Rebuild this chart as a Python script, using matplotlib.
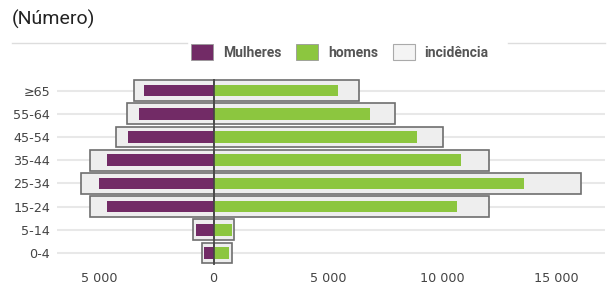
import matplotlib
matplotlib.use("Agg")
import matplotlib.pyplot as plt
from matplotlib.patches import Patch
from matplotlib.lines import Line2D
from matplotlib.ticker import FuncFormatter

categories = ["0-4", "5-14", "15-24", "25-34", "35-44", "45-54", "55-64", "≥65"]
mulheres = [430, 780, 4660, 5010, 4660, 3740, 3260, 3060]
homens = [690, 790, 10630, 13580, 10820, 8900, 6840, 5460]
incid_mulheres = [500, 910, 5390, 5780, 5390, 4280, 3770, 3500]
incid_homens = [795, 910, 12030, 16050, 12030, 10030, 7930, 6350]
xticks = [-5000, 0, 5000, 10000, 15000]

purple = "#722B66"
green = "#8CC63F"
light = "#EEEEEE"
edge = "#6E6E6E"

fig = plt.figure(figsize=(6.09, 2.87), dpi=100)
ax = fig.add_axes([0.094, 0.078, 0.899, 0.647])

y = list(range(len(categories)))
for yi in y:
    ax.axhline(yi, color="#E8E8E8", lw=1.5, zorder=0)

ax.barh(y, [-v for v in incid_mulheres], height=0.9, color=light, edgecolor=edge, linewidth=1.2, zorder=2)
ax.barh(y, incid_homens, height=0.9, color=light, edgecolor=edge, linewidth=1.2, zorder=2)
ax.barh(y, [-v for v in mulheres], height=0.5, color=purple, zorder=3)
ax.barh(y, homens, height=0.5, color=green, zorder=3)
ax.axvline(0, color="#444444", lw=1.2, zorder=4)

ax.set_xlim(-6840, 17110)
ax.set_ylim(-0.5, 7.5)
ax.set_yticks(y)
ax.set_yticklabels(categories)
ax.set_xticks(xticks)
ax.xaxis.set_major_formatter(FuncFormatter(lambda v, p: f"{abs(int(v)):,}".replace(",", " ")))
for s in ax.spines.values():
    s.set_visible(False)
ax.tick_params(axis="both", length=0, labelsize=9.2, labelcolor="#444444")
ax.tick_params(axis="y", pad=5)
ax.tick_params(axis="x", pad=5.5)
for lab in ax.get_xticklabels() + ax.get_yticklabels():
    lab.set_fontfamily("DejaVu Sans")

fig.text(12 / 609, 1 - 19 / 287, "(Número)", fontsize=14, family="Roboto", color="#222222", va="center", ha="left")

fig.add_artist(Line2D([12 / 609, 187 / 609], [1 - 43 / 287] * 2, color="#DDDDDD", lw=1))
fig.add_artist(Line2D([508 / 609, 605 / 609], [1 - 43 / 287] * 2, color="#DDDDDD", lw=1))

handles = [
    Patch(facecolor=purple, edgecolor="#999999", linewidth=0.6, label="Mulheres"),
    Patch(facecolor=green, edgecolor="#999999", linewidth=0.6, label="homens"),
    Patch(facecolor="#F4F4F4", edgecolor="#AAAAAA", linewidth=0.8, label="incidência"),
]
leg = fig.legend(handles=handles, loc="center", bbox_to_anchor=(340 / 609, 1 - 52 / 287), ncol=3,
                 frameon=False, handlelength=1.6, handleheight=1.3, handletextpad=0.7, columnspacing=1.05,
                 prop={"family": "Roboto", "weight": "bold", "size": 10})
for t in leg.get_texts():
    t.set_color("#555555")

fig.savefig("out.png", dpi=100)
